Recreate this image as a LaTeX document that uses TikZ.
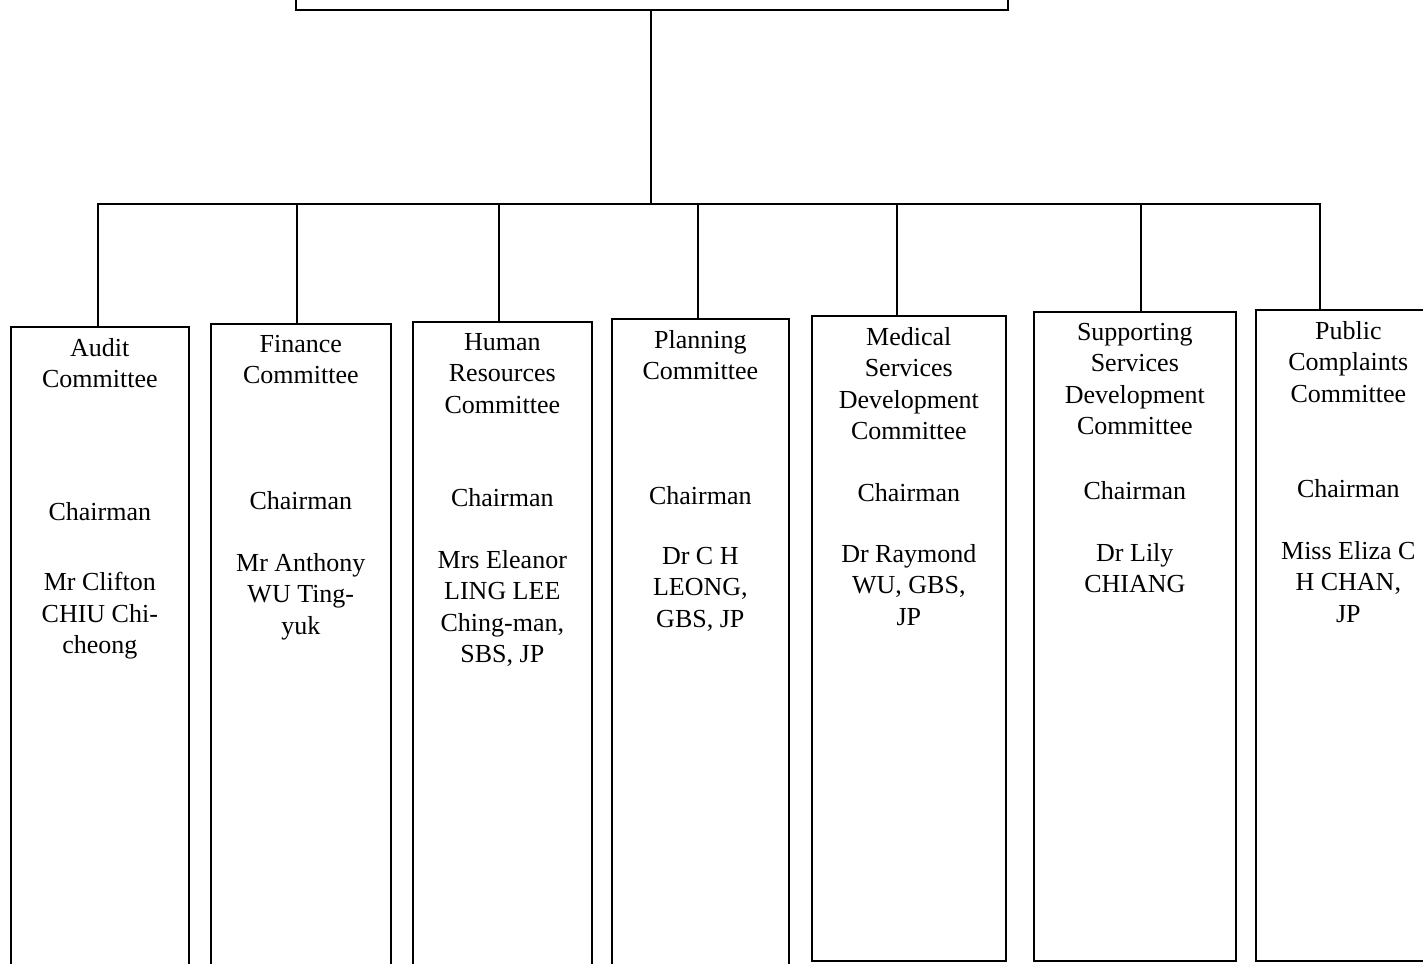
\documentclass[tikz,border=0pt]{standalone}
\usepackage{fontspec}
\setmainfont{Liberation Serif}
\tikzset{
	cbox/.style={draw=black, line width=1.6pt, inner sep=0pt},
	ctext/.style={align=center, inner sep=0pt, anchor=north, font=\fontsize{26}{31.5}\selectfont},
	link/.style={draw=black, line width=1.5pt}
}
\begin{document}
\begin{tikzpicture}[x=1pt, y=-1pt]
	\useasboundingbox (0,0) rectangle (1423,963);
	\clip (0,0) rectangle (1423,963);

	% board box, cut off at the top
	\node[cbox, minimum width=712, minimum height=60, anchor=south west] (top) at (295,11) {};
	\coordinate (bus) at (651,204);

	\foreach \i/\xl/\xr/\yt/\yb/\xc/\yc/\yn/\ttl/\nm in {
		1/10/188/326/975/98/502/572/{Audit\\Committee}/{Mr Clifton\\CHIU Chi-\\cheong},
		2/210/390/323/975/297/491/553/{Finance\\Committee}/{Mr Anthony\\WU Ting-\\yuk},
		3/412/591/321/975/499/488/550/{Human\\Resources\\Committee}/{Mrs Eleanor\\LING LEE\\Ching-man,\\SBS, JP},
		4/611/788/318/975/698/486/547/{Planning\\Committee}/{Dr C H\\LEONG,\\GBS, JP},
		5/811/1005/315/960/897/483/544/{Medical\\Services\\Development\\Committee}/{Dr Raymond\\WU, GBS,\\JP},
		6/1033/1235/311/960/1141/481/543/{Supporting\\Services\\Development\\Committee}/{Dr Lily\\CHIANG},
		7/1255/1440/309/960/1320/479/541/{Public\\Complaints\\Committee}/{Miss Eliza C\\H CHAN,\\JP}}
	{
		\node[cbox, minimum width=\xr-\xl, minimum height=\yb-\yt, anchor=north west] (b\i) at (\xl,\yt) {};
		\node[ctext] (t\i) at ([yshift=-12pt]b\i.north) {\ttl};
		\node[ctext] (h\i) at (b\i.north |- 0,\yc) {Chairman};
		\node[ctext] (n\i) at (b\i.north |- 0,\yn) {\nm};
		\coordinate (c\i) at (\xc,204);
	}

	\draw[link] (top.south -| bus) -- (bus);
	\draw[link] (c1 |- b1.north) -- (c1) -- (c7) -- (c7 |- b7.north);
	\foreach \i in {2,3,4,5,6}
	{
		\draw[link] (c\i) -- (c\i |- b\i.north);
	}
\end{tikzpicture}
\end{document}
